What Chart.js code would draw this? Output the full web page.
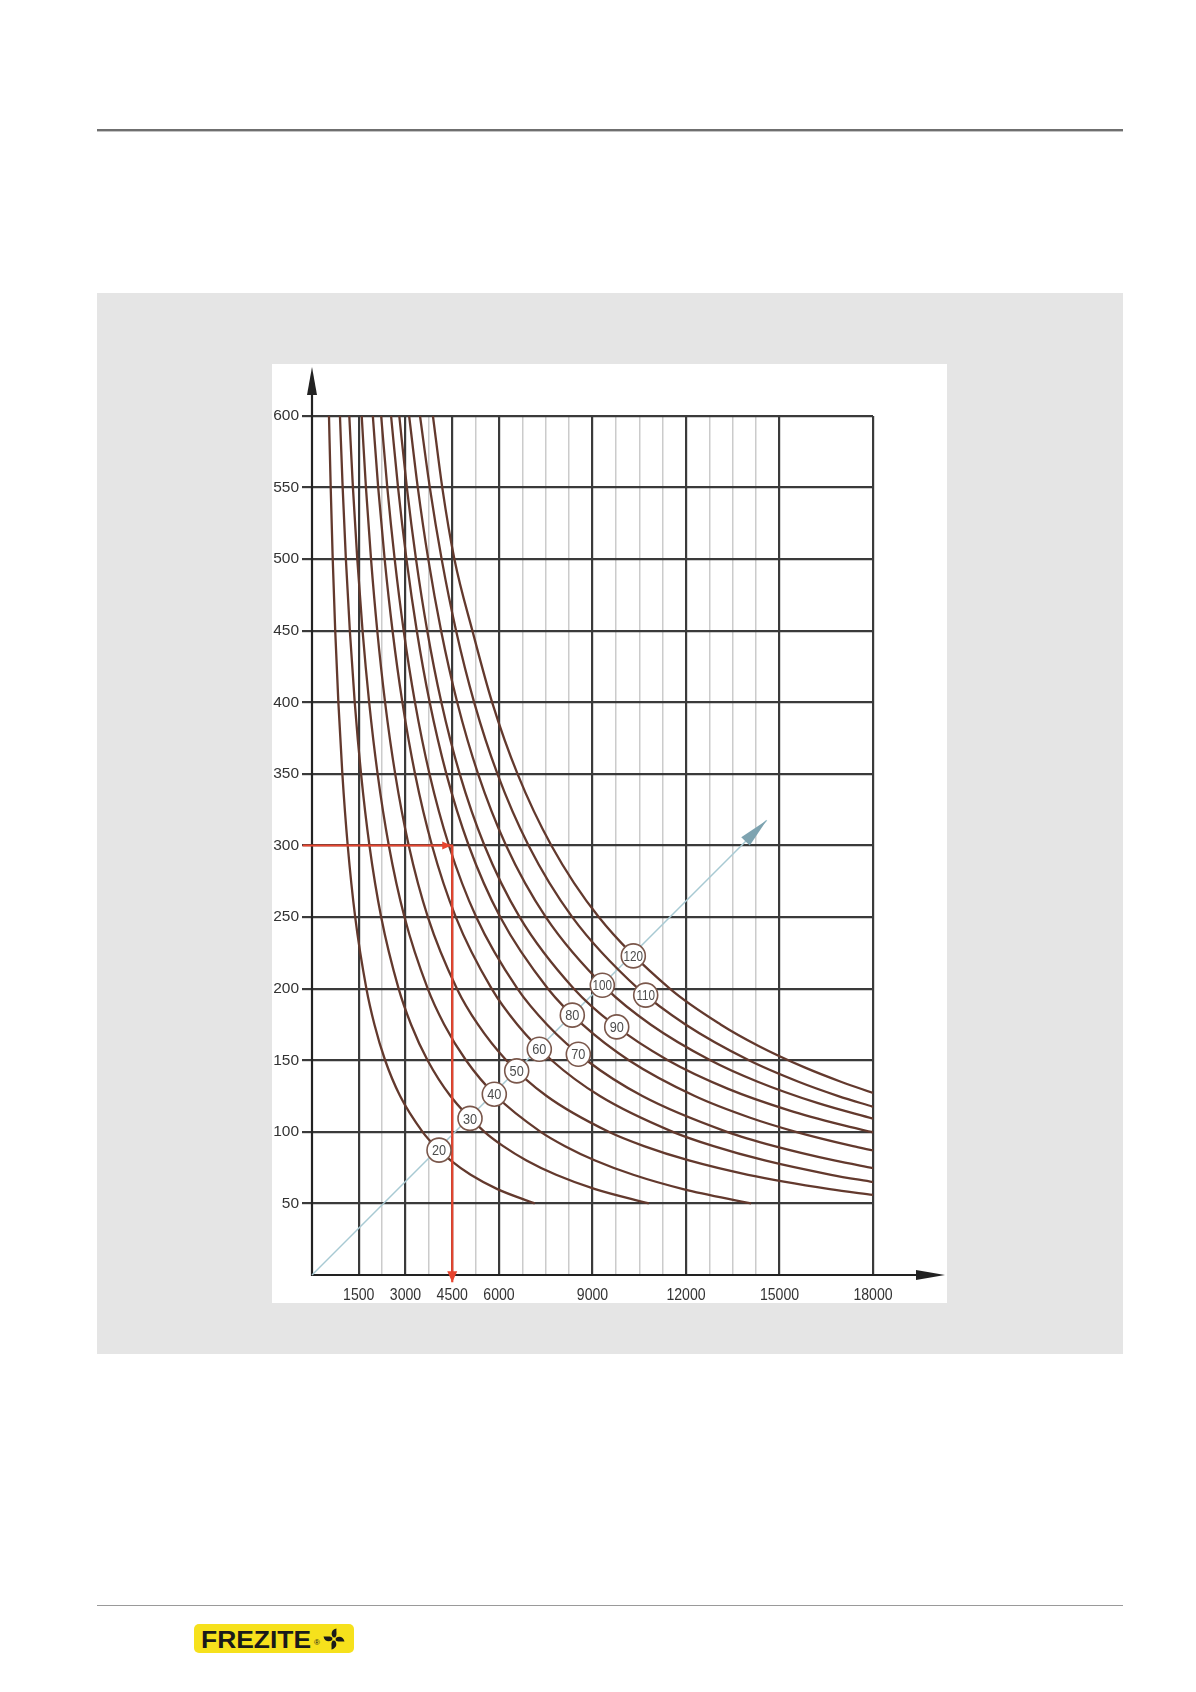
<!DOCTYPE html>
<html><head><meta charset="utf-8">
<script src="https://cdn.jsdelivr.net/npm/chart.js@4.4.1/dist/chart.umd.min.js"></script>
<style>
html,body{margin:0;padding:0;background:#fff;}
body{width:1196px;height:1692px;position:relative;overflow:hidden;font-family:'Liberation Sans',Arial,sans-serif;}
#topRule{position:absolute;left:97px;top:129px;width:1026px;height:2px;background:#6f6f6f;box-shadow:0 1px 0 #c4c4c4;}
#panel{position:absolute;left:97px;top:293px;width:1026px;height:1061px;background:#e5e5e5;}
#chartBox{position:absolute;left:272px;top:364px;width:675px;height:939px;background:#fff;}
#chartBox canvas{display:block;}
#botRule{position:absolute;left:97px;top:1605px;width:1026px;height:1px;background:#9a9a9a;}
#logo{position:absolute;left:194px;top:1624px;width:160px;height:29px;background:#f6e11c;border-radius:5px;}
#logoText{position:absolute;left:7px;top:3.5px;font:bold 24px/24px 'Liberation Sans',Arial,sans-serif;color:#1a1a1a;transform:scaleX(1.1);transform-origin:0 0;white-space:nowrap;}
#logoR{position:absolute;left:120px;top:15px;font:8px/8px 'Liberation Sans',Arial,sans-serif;color:#1a1a1a;}
#logoFan{position:absolute;left:128px;top:3px;}
</style></head>
<body>
<div id="topRule"></div>
<div id="panel"></div>
<div id="chartBox"><canvas id="c" width="675" height="939" style="width:675px;height:939px"></canvas></div>
<div id="botRule"></div>
<div id="logo"><span id="logoText">FREZITE</span><span id="logoR">®</span>
<svg id="logoFan" width="24" height="24" viewBox="-12 -12 24 24">
<g fill="#1a1a1a">
<path d="M-1,-1.8 C-3.5,-5 -2.5,-9.5 2.5,-10.5 C2,-7 3.5,-4 1.2,-1.6 Z"/>
<path d="M-1,-1.8 C-3.5,-5 -2.5,-9.5 2.5,-10.5 C2,-7 3.5,-4 1.2,-1.6 Z" transform="rotate(90)"/>
<path d="M-1,-1.8 C-3.5,-5 -2.5,-9.5 2.5,-10.5 C2,-7 3.5,-4 1.2,-1.6 Z" transform="rotate(180)"/>
<path d="M-1,-1.8 C-3.5,-5 -2.5,-9.5 2.5,-10.5 C2,-7 3.5,-4 1.2,-1.6 Z" transform="rotate(270)"/>
</g></svg>
</div>
<script>
// ---- data ----
const curveLabels = [20, 30, 40, 50, 60, 70, 80, 90, 100, 110, 120];
const c20 = [[545,600],[600,550],[665,500],[745,450],[846,400],[974,350],[1146,300],[1386,250],[1746,200],[2003,175],[2346,150],[2827,125],[3547,100],[3947,90],[4448,80],[5091,70],[5948,60],[7149,50]];
const c30 = [[897,600],[984,550],[1087,500],[1214,450],[1371,400],[1574,350],[1843,300],[2219,250],[2779,200],[3178,175],[3707,150],[4442,125],[5534,100],[6136,90],[6882,80],[7832,70],[9085,60],[10810,50]];
const c40 = [[1197,600],[1313,550],[1453,500],[1622,450],[1834,400],[2105,350],[2465,300],[2967,250],[3713,200],[4241,175],[4940,150],[5908,125],[7337,100],[8119,90],[9085,80],[10308,70],[11908,60],[14090,50]];
const c50 = [[1595,600],[1731,550],[1894,500],[2094,450],[2345,400],[2669,350],[3104,300],[3718,250],[4650,200],[5323,175],[6233,150],[7528,125],[9519,100],[10651,90],[12094,80],[13994,70],[16612,60],[18000,55.9]];
const c60 = [[1952,600],[2124,550],[2331,500],[2584,450],[2900,400],[3307,350],[3851,300],[4614,250],[5763,200],[6586,175],[7688,150],[9237,125],[11576,100],[12884,90],[14528,80],[16654,70],[18000,64.9]];
const c70 = [[2219,600],[2416,550],[2653,500],[2942,450],[3304,400],[3770,350],[4394,300],[5269,250],[6590,200],[7538,175],[8809,150],[10600,125],[13314,100],[14837,90],[16755,80],[18000,74.7]];
const c80 = [[2537,600],[2761,550],[3031,500],[3362,450],[3776,400],[4311,350],[5028,300],[6039,250],[7570,200],[8676,175],[10165,150],[12281,125],[14038,110],[15522,100],[17358,90],[18000,87]];
const c90 = [[2801,600],[3044,550],[3337,500],[3697,450],[4150,400],[4739,350],[5533,300],[6663,250],[8401,200],[9675,175],[11418,150],[13352,130],[15306,115],[16966,105],[18000,99.7]];
const c100 = [[3117,600],[3395,550],[3730,500],[4142,450],[4659,400],[5328,350],[6227,300],[7502,250],[9447,200],[10862,175],[12781,150],[14302,135],[16237,120],[18000,109.2]];
const c110 = [[3466,600],[3781,550],[4160,500],[4623,450],[5203,400],[5950,350],[6948,300],[8351,250],[10466,200],[11984,175],[14019,150],[15610,135],[16888,125],[18000,117.5]];
const c120 = [[3880,600],[4180,550],[4570,500],[5147,450],[5780,400],[6594,350],[7680,300],[9200,250],[11480,200],[13109,175],[14330,160],[15804,145],[16969,135],[18000,127.2]];
const curves = [c20, c30, c40, c50, c60, c70, c80, c90, c100, c110, c120];

// label circle positions (data units), same order as curveLabels
const labelX = [4075, 5070, 5849, 6568, 7293, 8545, 8352, 9777, 9315, 10707, 10309];
const labelY = [87.2, 109.4, 126.3, 142.6, 157.7, 154.2, 181.5, 173.3, 202.4, 195.5, 222.9];

// axis ticks
const xGridValues = [0, 1500, 2250, 3000, 3750, 4500, 5250, 6000, 6750, 7500, 8250, 9000, 9750, 10500, 11250, 12000, 12750, 13500, 14250, 15000, 18000];
const xTickLabels = [1500, 3000, 4500, 6000, 9000, 12000, 15000, 18000];
const yTickValues = [0, 50, 100, 150, 200, 250, 300, 350, 400, 450, 500, 550, 600];

// diagonal guide (light blue) and red example reading
const guideX = [0, 14590];
const guideY = [0, 317.7];
const readX = [-300, 4500, 4500];
const readY = [300, 300, -5];

// ---- chart ----
const DARK = '#3a3a3a', LIGHT = '#cbcbcb', BROWN = '#63392d', RED = '#e8452f';
const SANS = "'Liberation Sans',Arial,sans-serif";

const datasets = [];
curves.forEach((c, i) => {
  datasets.push({
    label: String(curveLabels[i]),
    data: c.map(p => ({x: p[0], y: p[1]})),
    showLine: true, borderColor: BROWN, borderWidth: 2.3, pointRadius: 0,
    cubicInterpolationMode: 'monotone', order: 2
  });
});
datasets.push({
  label: 'guide', data: guideX.map((v, i) => ({x: v, y: guideY[i]})),
  showLine: true, borderColor: '#a8cad3', borderWidth: 1.5, pointRadius: 0, order: 5, clip: false
});
datasets.push({
  label: 'reading', data: readX.map((v, i) => ({x: v, y: readY[i]})),
  showLine: true, borderColor: RED, borderWidth: 2.2, pointRadius: 0, order: 0, clip: false, tension: 0
});

function tri(ctx, tx, ty, dx, dy, len, half) {
  const bx = tx - dx * len, by = ty - dy * len;
  ctx.beginPath();
  ctx.moveTo(tx, ty);
  ctx.lineTo(bx - dy * half, by + dx * half);
  ctx.lineTo(bx + dy * half, by - dx * half);
  ctx.closePath();
  ctx.fill();
}
function narrowText(ctx, txt, x, y, sx) {
  ctx.save(); ctx.translate(x, y); ctx.scale(sx, 1); ctx.fillText(txt, 0, 0); ctx.restore();
}

const decor = {
  id: 'decor',
  beforeDatasetsDraw(chart) {
    const {ctx, scales: {x, y}} = chart;
    const ox = x.getPixelForValue(0), oy = y.getPixelForValue(0);
    const yTop = y.getPixelForValue(600), xEnd = x.getPixelForValue(18000);
    ctx.save();
    ctx.strokeStyle = '#222'; ctx.fillStyle = '#222'; ctx.lineWidth = 2.2;
    ctx.beginPath(); ctx.moveTo(ox, oy + 1); ctx.lineTo(ox, yTop - 22); ctx.stroke();
    tri(ctx, ox, yTop - 49, 0, -1, 28, 5);
    ctx.beginPath(); ctx.moveTo(ox - 1, oy); ctx.lineTo(xEnd + 45, oy); ctx.stroke();
    tri(ctx, xEnd + 72, oy, 1, 0, 29, 5);
    // x tick labels (condensed, as in the reference)
    ctx.fillStyle = '#333'; ctx.font = '17px ' + SANS;
    ctx.textAlign = 'center'; ctx.textBaseline = 'middle';
    xTickLabels.forEach(v => narrowText(ctx, String(v), x.getPixelForValue(v), oy + 20, 0.83));
    ctx.restore();
  },
  afterDatasetsDraw(chart) {
    const {ctx, scales: {x, y}} = chart;
    ctx.save();
    // guide arrow head
    const gx0 = x.getPixelForValue(guideX[0]), gy0 = y.getPixelForValue(guideY[0]);
    const gx1 = x.getPixelForValue(guideX[1]), gy1 = y.getPixelForValue(guideY[1]);
    const gl = Math.hypot(gx1 - gx0, gy1 - gy0);
    ctx.fillStyle = '#7ea3b0';
    tri(ctx, gx1, gy1, (gx1 - gx0) / gl, (gy1 - gy0) / gl, 30, 6);
    // red arrow heads
    ctx.fillStyle = RED;
    const rx = x.getPixelForValue(readX[1]), ry = y.getPixelForValue(readY[1]);
    tri(ctx, rx - 1, ry, 1, 0, 9, 4);
    const ex = x.getPixelForValue(readX[2]), ey = y.getPixelForValue(readY[2]);
    tri(ctx, ex, ey, 0, 1, 11, 5);
    // label circles
    ctx.font = '15px ' + SANS;
    ctx.textAlign = 'center'; ctx.textBaseline = 'middle';
    curveLabels.forEach((lab, i) => {
      const px = x.getPixelForValue(labelX[i]), py = y.getPixelForValue(labelY[i]);
      ctx.beginPath(); ctx.arc(px, py, 12, 0, Math.PI * 2);
      ctx.fillStyle = '#fff'; ctx.fill();
      ctx.lineWidth = 1.6; ctx.strokeStyle = '#7a574b'; ctx.stroke();
      ctx.fillStyle = '#4d4d4d';
      narrowText(ctx, String(lab), px, py + 1, String(lab).length > 2 ? 0.78 : 0.85);
    });
    ctx.restore();
  }
};

new Chart(document.getElementById('c'), {
  type: 'scatter',
  data: {datasets},
  options: {
    responsive: false, animation: false, devicePixelRatio: 1,
    layout: {padding: {top: 52, right: 74, left: 0, bottom: 0}},
    plugins: {legend: {display: false}, tooltip: {enabled: false}},
    scales: {
      x: {
        type: 'linear', min: 0, max: 18000,
        afterBuildTicks: s => { s.ticks = xGridValues.map(v => ({value: v})); },
        afterFit: s => { s.height = 28; },
        border: {display: false},
        grid: {
          drawTicks: false,
          color: c => c.tick.value === 0 ? 'rgba(0,0,0,0)' : (xTickLabels.includes(c.tick.value) ? DARK : LIGHT),
          lineWidth: c => (xTickLabels.includes(c.tick.value) ? 2.2 : 1.5)
        },
        ticks: {display: false}
      },
      y: {
        type: 'linear', min: 0, max: 600,
        afterBuildTicks: s => { s.ticks = yTickValues.map(v => ({value: v})); },
        afterFit: s => { s.width = 40; },
        border: {display: false},
        grid: {
          drawTicks: true, tickLength: 10,
          color: c => c.tick.value === 0 ? 'rgba(0,0,0,0)' : DARK,
          lineWidth: 2.2
        },
        ticks: {
          padding: 3, color: '#333',
          font: {family: SANS, size: 15.5},
          callback: v => (v === 0 ? '' : String(v))
        }
      }
    }
  },
  plugins: [decor]
});
</script>
</body></html>
